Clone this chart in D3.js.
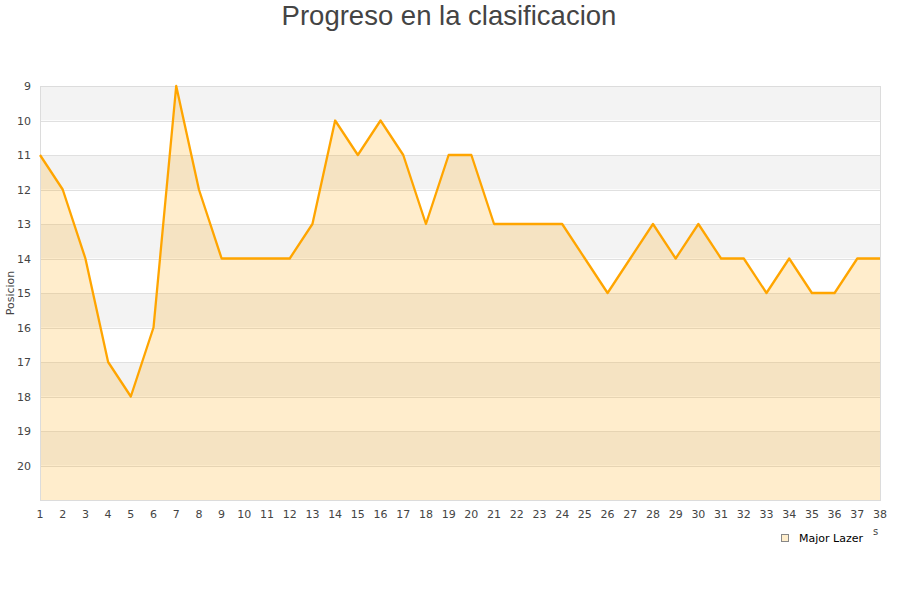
<!DOCTYPE html>
<html><head><meta charset="utf-8">
<script src="https://cdn.jsdelivr.net/npm/d3@7"></script>
<style>body{margin:0;background:#fff}svg{display:block}</style>
</head><body><svg id="c" width="900" height="600"></svg>
<script>
const jornadas = d3.range(1, 39);
const posiciones = [11,12,14,17,18,16,9,12,14,14,14,14,13,10,11,10,11,13,11,11,13,13,13,13,14,15,14,13,14,13,14,14,15,14,15,15,14,14];
const yTicks = [9,10,11,12,13,14,15,16,17,18,19,20];
const seriesName = "Major Lazer";
const titleText = "Progreso en la clasificacion";
const yLabel = "Posicion";

const svg = d3.select("#c");
const L = 40, R = 880, T = 86, B = 500;
const x = d3.scaleLinear().domain([1, 38]).range([L, R]);
const y = d3.scaleLinear().domain([9, 21]).range([T, B]);

const bands = d3.range(9, 21);
svg.append("g").selectAll("rect").data(bands).join("rect")
  .attr("x", L).attr("width", R - L)
  .attr("y", d => y(d)).attr("height", d => y(d + 1) - y(d))
  .attr("fill", d => (d % 2 === 1) ? "#f3f3f3" : "#ffffff");

svg.append("g").selectAll("line").data(d3.range(10, 21)).join("line")
  .attr("x1", L).attr("x2", R)
  .attr("y1", d => Math.round(y(d)) + 0.5).attr("y2", d => Math.round(y(d)) + 0.5)
  .attr("stroke", "#e0e0e0").attr("stroke-width", 1);

const pts = jornadas.map((j, i) => [j, posiciones[i]]);
const area = d3.area().x(d => x(d[0])).y0(B).y1(d => y(d[1]));
svg.append("path").datum(pts).attr("d", area).attr("fill", "rgba(255,165,0,0.2)");

svg.append("rect").attr("x", L + 0.5).attr("y", T + 0.5).attr("width", R - L).attr("height", B - T)
  .attr("fill", "none").attr("stroke", "#dcdcdc");

const line = d3.line().x(d => x(d[0])).y(d => y(d[1]));
svg.append("path").datum(pts).attr("d", line).attr("fill", "none")
  .attr("stroke", "#ffa500").attr("stroke-width", 2.3).attr("stroke-linejoin", "round");

const font = "DejaVu Sans, Verdana, sans-serif";
svg.append("g").selectAll("text").data(yTicks).join("text")
  .attr("x", 31).attr("y", d => y(d) + 4).attr("text-anchor", "end")
  .attr("font-family", font).attr("font-size", 11).attr("fill", "#444")
  .text(d => d);
svg.append("g").selectAll("text").data(jornadas).join("text")
  .attr("x", d => x(d)).attr("y", 518).attr("text-anchor", "middle")
  .attr("font-family", font).attr("font-size", 11).attr("fill", "#444")
  .text(d => d);

svg.append("text").attr("transform", "translate(14,293) rotate(-90)")
  .attr("text-anchor", "middle").attr("font-family", font).attr("font-size", 11).attr("fill", "#444")
  .text(yLabel);

svg.append("text").attr("x", 449).attr("y", 25).attr("text-anchor", "middle")
  .attr("font-family", "Liberation Sans, Arial, sans-serif").attr("font-size", 27.5).attr("fill", "#444")
  .text(titleText);

svg.append("rect").attr("x", 781.5).attr("y", 534.5).attr("width", 7).attr("height", 7)
  .attr("fill", "#ffeecc").attr("stroke", "#888").attr("stroke-width", 1);
svg.append("text").attr("x", 799).attr("y", 542).attr("font-family", font).attr("font-size", 11)
  .attr("fill", "#000").text(seriesName);
svg.append("text").attr("x", 873).attr("y", 535).attr("font-family", font).attr("font-size", 10)
  .attr("fill", "#444").text("s");
</script></body></html>
